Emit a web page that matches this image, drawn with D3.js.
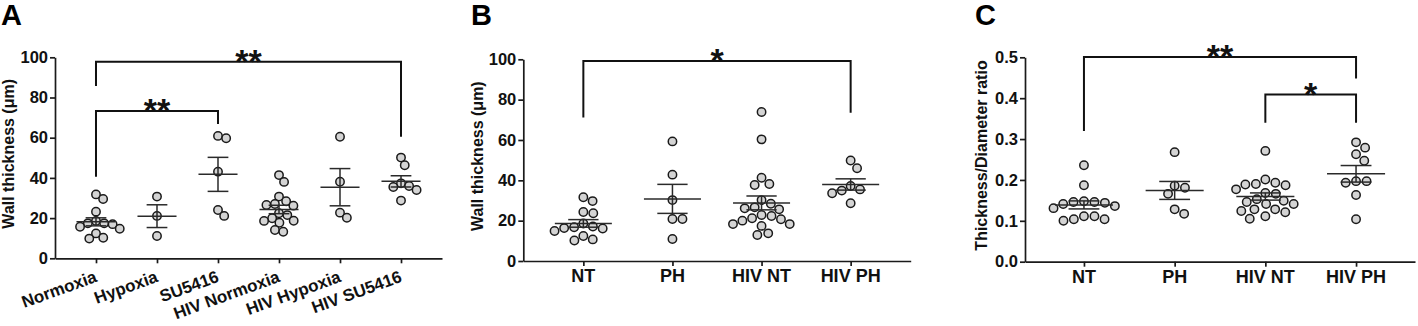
<!DOCTYPE html>
<html>
<head>
<meta charset="utf-8">
<script src="https://cdn.jsdelivr.net/npm/d3@7"></script>
<style>
  body { margin: 0; background: #fff; }
  svg { display: block; font-family: "Liberation Sans", Arial, sans-serif; font-weight: bold; }
</style>
</head>
<body>
<div id="wrapper"></div>
<script>
// Panel A: wall thickness (µm), mouse models
const groupsA = ["Normoxia", "Hypoxia", "SU5416", "HIV Normoxia", "HIV Hypoxia", "HIV SU5416"];
const wallA = [
  [31.8, 29.5, 23.2, 18.6, 17.4, 17.4, 17.0, 15.7, 14.7, 12.4, 10.2, 9.8],
  [30.7, 21.1, 11.1],
  [60.9, 59.7, 43.1, 24.0, 21.1],
  [41.4, 38.0, 30.7, 28.4, 27.0, 26.5, 26.2, 22.4, 21.5, 19.9, 18.7, 18.6, 17.7, 14.1, 13.2],
  [60.5, 38.1, 22.7, 20.2],
  [50.1, 46.3, 37.3, 36.0, 35.5, 34.0, 28.7]
];
const ticksA = [0, 20, 40, 60, 80, 100];
// [from, to, bracket top, left leg end, right leg end, label]
const bracketsA = [
  [0, 5, 97.8, 85.7, 60.5, "**"],
  [0, 2, 73.3, 40.6, 66.8, "**"]
];

// Panel B: wall thickness (µm), human groups
const groupsB = ["NT", "PH", "HIV NT", "HIV PH"];
const wallB = [
  [31.6, 29.7, 24.3, 23.7, 18.6, 17.1, 16.7, 16.3, 16.1, 14.9, 12.4, 10.7, 10.2],
  [59.3, 42.8, 30.2, 20.8, 20.8, 10.9],
  [73.9, 60.3, 41.3, 38.2, 37.7, 30.2, 28.4, 26.6, 26.1, 25.6, 22.8, 22.3, 21.2, 20.7, 20.0, 18.3, 18.3, 17.4, 13.7, 12.9],
  [49.8, 46.0, 37.2, 35.5, 34.9, 33.6, 28.6]
];
const ticksB = [0, 20, 40, 60, 80, 100];
const bracketsB = [
  [0, 3, 99.2, 71.2, 73.5, "*"]
];

// Panel C: thickness / diameter ratio
const groupsC = ["NT", "PH", "HIV NT", "HIV PH"];
const ratioC = [
  [0.236, 0.187, 0.148, 0.146, 0.146, 0.144, 0.141, 0.136, 0.131, 0.111, 0.111, 0.104, 0.104, 0.100],
  [0.268, 0.186, 0.181, 0.166, 0.128, 0.117],
  [0.271, 0.201, 0.193, 0.190, 0.189, 0.187, 0.177, 0.168, 0.166, 0.153, 0.149, 0.146, 0.141, 0.141, 0.128, 0.128, 0.124, 0.121, 0.111, 0.105],
  [0.292, 0.279, 0.263, 0.247, 0.197, 0.197, 0.193, 0.163, 0.104]
];
const ticksC = [0, 0.1, 0.2, 0.3, 0.4, 0.5];
const bracketsC = [
  [0, 3, 0.501, 0.32, 0.448, "**"],
  [2, 3, 0.409, 0.34, 0.34, "*"]
];

const width = 1418;
const height = 326;

const svg = d3
  .select("#wrapper")
  .append("svg")
  .attr("width", width)
  .attr("height", height);

// simple beeswarm: place each dot as close to the centre as it can go
function swarm(vals, yScale, gap) {
  const pts = vals
    .map((v) => ({ v, py: yScale(v) }))
    .sort((a, b) => a.py - b.py);
  const placed = [];
  pts.forEach((p) => {
    const iv = [];
    placed.forEach((q) => {
      const dy = Math.abs(q.py - p.py);
      if (dy < gap) {
        const w = Math.sqrt(gap * gap - dy * dy);
        iv.push([q.dx - w, q.dx + w]);
      }
    });
    const cands = [0];
    iv.forEach((d) => cands.push(d[0], d[1]));
    cands.sort((a, b) => Math.abs(a) - Math.abs(b) || b - a);
    p.dx = cands.find((c) => iv.every((d) => c <= d[0] + 1e-6 || c >= d[1] - 1e-6));
    placed.push(p);
  });
  return pts;
}

function drawPanel(cfg) {
  const g = svg.append("g");

  const xScale = d3
    .scalePoint()
    .domain(cfg.groups)
    .range([cfg.left, cfg.right])
    .padding(cfg.pad);
  const yScale = d3
    .scaleLinear()
    .domain([0, cfg.max])
    .range([cfg.bottom, cfg.top]);
  const step = xScale.step();

  // panel letter
  g.append("text")
    .attr("x", cfg.letterX)
    .attr("y", 25)
    .attr("fill", "#000")
    .style("font-size", "29px")
    .text(cfg.letter);

  // axes
  const yAxis = g
    .append("g")
    .attr("transform", `translate(${cfg.left},0)`)
    .call(
      d3.axisLeft(yScale)
        .tickValues(cfg.ticks)
        .tickFormat(cfg.fmt)
        .tickSize(5)
        .tickPadding(2)
        .tickSizeOuter(0)
    );
  const xAxis = g
    .append("g")
    .attr("transform", `translate(0,${cfg.bottom})`)
    .call(d3.axisBottom(xScale).tickSize(5).tickSizeOuter(0).tickFormat(""));

  [yAxis, xAxis].forEach((a) => {
    a.select(".domain").attr("stroke", "#1a1a1a").attr("stroke-width", 1.7);
    a.selectAll(".tick line").attr("stroke", "#1a1a1a").attr("stroke-width", 1.7);
  });
  yAxis
    .selectAll(".tick text")
    .attr("fill", "#111")
    .style("font-size", "16.5px")
    .style("font-family", "'Liberation Sans', Arial, sans-serif")
    .style("font-weight", "bold");

  // y title
  g.append("text")
    .attr("transform", `translate(${cfg.titleX},${(cfg.top + cfg.bottom) / 2 - 4}) rotate(-90)`)
    .attr("text-anchor", "middle")
    .attr("fill", "#111")
    .style("font-size", "16px")
    .text(cfg.title);

  // category labels
  const labels = g
    .selectAll(".cat")
    .data(cfg.groups)
    .join("text")
    .attr("class", "cat")
    .attr("fill", "#111")
    .style("font-size", cfg.rotate ? "17px" : "18px")
    .text((d) => d);
  if (cfg.rotate) {
    labels
      .attr("text-anchor", "end")
      .attr("transform", (d) => `translate(${xScale(d) + 2},${cfg.bottom + 23}) rotate(-20)`);
  } else {
    labels
      .attr("text-anchor", "middle")
      .attr("x", (d) => xScale(d))
      .attr("y", cfg.bottom + 21);
  }

  // dots
  cfg.values.forEach((vals, i) => {
    const cx = xScale(cfg.groups[i]);
    g.append("g")
      .selectAll("circle")
      .data(swarm(vals, yScale, cfg.gap))
      .join("circle")
      .attr("cx", (d) => cx + d.dx)
      .attr("cy", (d) => d.py)
      .attr("r", 4.2)
      .attr("fill", "#d4d4d4")
      .attr("stroke", "#1a1a1a")
      .attr("stroke-width", 1.5);
  });

  // mean and SEM
  cfg.values.forEach((vals, i) => {
    const cx = xScale(cfg.groups[i]);
    const m = d3.mean(vals);
    const sem = d3.deviation(vals) / Math.sqrt(vals.length);
    const eg = g.append("g").attr("stroke", "#2a2a2a").attr("stroke-width", 1.5);
    const mw = 0.32 * step;
    const cw = 0.17 * step;
    eg.append("line")
      .attr("x1", cx - mw).attr("x2", cx + mw)
      .attr("y1", yScale(m)).attr("y2", yScale(m));
    eg.append("line")
      .attr("x1", cx).attr("x2", cx)
      .attr("y1", yScale(m - sem)).attr("y2", yScale(m + sem));
    [m - sem, m + sem].forEach((v) => {
      eg.append("line")
        .attr("x1", cx - cw).attr("x2", cx + cw)
        .attr("y1", yScale(v)).attr("y2", yScale(v));
    });
  });

  // significance brackets
  cfg.brackets.forEach(([from, to, top, l, r, label]) => {
    const x1 = xScale(cfg.groups[from]);
    const x2 = xScale(cfg.groups[to]);
    const yt = yScale(top);
    g.append("path")
      .attr("d", `M${x1},${yScale(l)}V${yt}H${x2}V${yScale(r)}`)
      .attr("fill", "none")
      .attr("stroke", "#111")
      .attr("stroke-width", 2);
    g.append("text")
      .attr("x", (x1 + x2) / 2)
      .attr("y", yt + 11)
      .attr("text-anchor", "middle")
      .attr("fill", "#111")
      .style("font-size", "34px")
      .text(label);
  });
}

drawPanel({
  letter: "A", letterX: 1,
  groups: groupsA, values: wallA, ticks: ticksA, brackets: bracketsA,
  max: 100, fmt: d3.format("d"),
  left: 55, right: 442, top: 57.3, bottom: 258.3, pad: 0.672,
  titleX: 13.5, title: "Wall thickness (\u03bcm)", rotate: true, gap: 8.5
});

drawPanel({
  letter: "B", letterX: 471,
  groups: groupsB, values: wallB, ticks: ticksB, brackets: bracketsB,
  max: 100, fmt: d3.format("d"),
  left: 523.3, right: 910.7, top: 59.3, bottom: 261, pad: 0.674,
  titleX: 483, title: "Wall thickness (\u03bcm)", rotate: false, gap: 10
});

drawPanel({
  letter: "C", letterX: 975,
  groups: groupsC, values: ratioC, ticks: ticksC, brackets: bracketsC,
  max: 0.5, fmt: d3.format(".1f"),
  left: 1025, right: 1415, top: 57.3, bottom: 261.7, pad: 0.65,
  titleX: 987, title: "Thickness/Diameter ratio", rotate: false, gap: 10.5
});
</script>
</body>
</html>
